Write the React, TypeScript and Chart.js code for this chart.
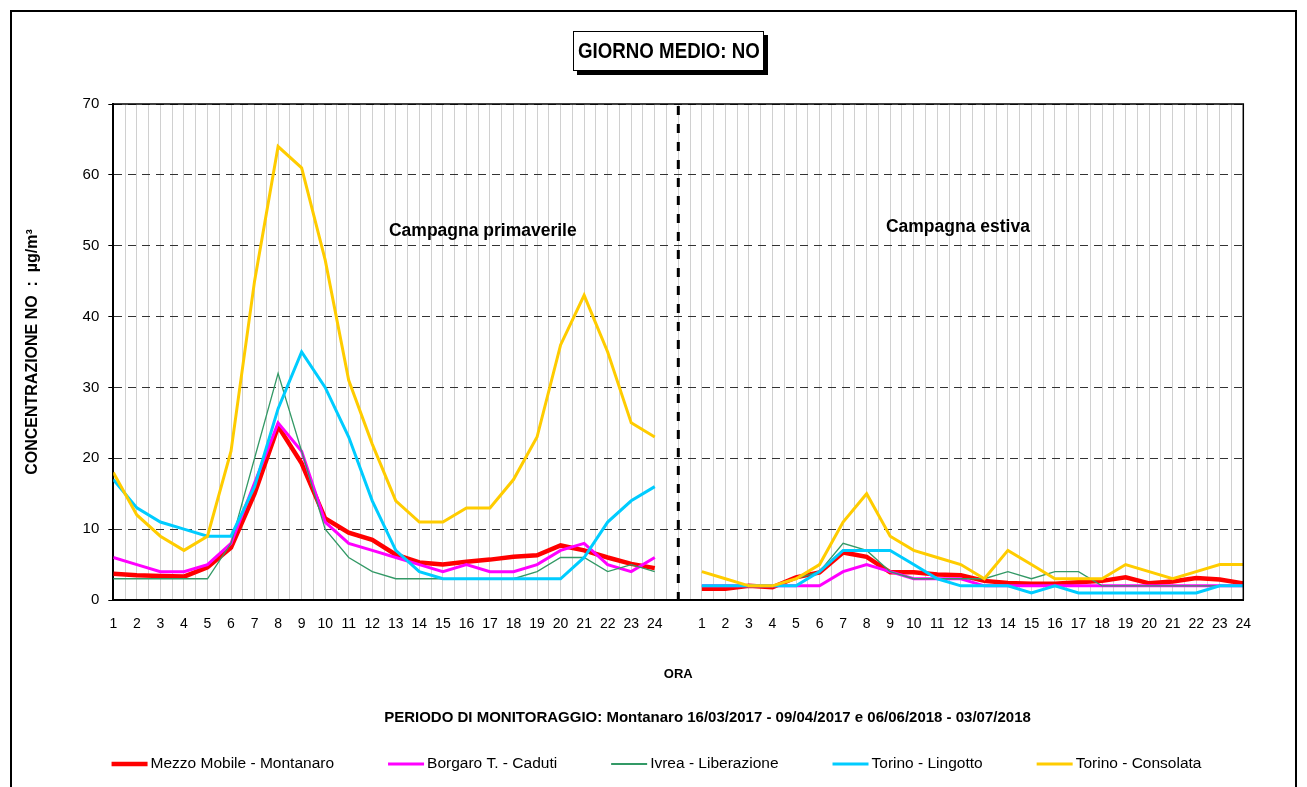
import React, { useEffect, useRef } from "react";
import { Chart, registerables } from "chart.js";

Chart.register(...registerables);

const FONT = "'Liberation Sans', Arial, sans-serif";

// Hours of each campaign (x tick labels)
const hoursSpring = ["1","2","3","4","5","6","7","8","9","10","11","12","13","14","15","16","17","18","19","20","21","22","23","24"];
const hoursSummer = ["1","2","3","4","5","6","7","8","9","10","11","12","13","14","15","16","17","18","19","20","21","22","23","24"];
const xLabels = [...hoursSpring, "", ...hoursSummer];

const yTicks = [0, 10, 20, 30, 40, 50, 60, 70];

// Series values (µg/m³)
const mezzoSpring = [3.7, 3.5, 3.4, 3.3, 4.6, 7.4, 15, 24.5, 19.3, 11.5, 9.5, 8.5, 6.4, 5.3, 5.0, 5.4, 5.7, 6.1, 6.3, 7.7, 7.0, 6.0, 5.1, 4.5];
const mezzoSummer = [1.6, 1.6, 2.0, 1.8, 3.2, 3.9, 6.7, 6.1, 3.9, 3.9, 3.6, 3.5, 2.7, 2.4, 2.3, 2.3, 2.5, 2.7, 3.2, 2.35, 2.6, 3.1, 2.9, 2.35];
const borgaroSpring = [6, 5, 4, 4, 5, 8, 16.5, 25, 21, 11, 8, 7, 6, 5, 4, 5, 4, 4, 5, 7, 8, 5, 4, 6];
const borgaroSummer = [2, 2, 2, 2, 2, 2, 4, 5, 4, 3, 3, 3, 2, 2, 2, 2, 2, 2, 2, 2, 2, 2, 2, 2];
const ivreaSpring = [3, 3, 3, 3, 3, 8, 20, 32, 21, 10, 6, 4, 3, 3, 3, 3, 3, 3, 4, 6, 6, 4, 5, 4];
const ivreaSummer = [2, 2, 2, 2, 3, 4, 8, 7, 4, 3, 3, 3, 3, 4, 3, 4, 4, 2, 2, 2, 2, 2, 2, 2];
const lingottoSpring = [17, 13, 11, 10, 9, 9, 16, 27, 35, 30, 23, 14, 7, 4, 3, 3, 3, 3, 3, 3, 6, 11, 14, 16];
const lingottoSummer = [2, 2, 2, 2, 2, 4, 7, 7, 7, 5, 3, 2, 2, 2, 1, 2, 1, 1, 1, 1, 1, 1, 2, 2];
const consolataSpring = [18, 12, 9, 7, 9, 21, 45, 64, 61, 48, 31, 22, 14, 11, 11, 13, 13, 17, 23, 36, 43, 35, 25, 23];
const consolataSummer = [4, 3, 2, 2, 3, 5, 11, 15, 9, 7, 6, 5, 3, 7, 5, 3, 3, 3, 5, 4, 3, 4, 5, 5];

const seriesNames = [
  "Mezzo Mobile - Montanaro",
  "Borgaro T. - Caduti",
  "Ivrea - Liberazione",
  "Torino - Lingotto",
  "Torino - Consolata",
];
const seriesColors = ["#FF0000", "#FF00FF", "#339966", "#00CCFF", "#FFCC00"];
const seriesWidths = [4.5, 3, 1.3, 3, 3];
const springData = [mezzoSpring, borgaroSpring, ivreaSpring, lingottoSpring, consolataSpring];
const summerData = [mezzoSummer, borgaroSummer, ivreaSummer, lingottoSummer, consolataSummer];

const GAP_POS = hoursSpring.length + 1; // empty slot between campaigns

function toPoints(spring: number[], summer: number[]) {
  return [
    ...spring.map((y, i) => ({ x: i + 1, y })),
    { x: GAP_POS, y: null },
    ...summer.map((y, i) => ({ x: GAP_POS + 1 + i, y })),
  ];
}

const decorPlugin = {
  id: "decor",
  beforeDatasetsDraw(chart: any) {
    const { ctx, chartArea, scales } = chart;
    const x = scales.x.getPixelForValue(GAP_POS);
    ctx.save();
    ctx.strokeStyle = "#000";
    ctx.lineWidth = 3;
    ctx.setLineDash([9, 9]);
    ctx.beginPath();
    ctx.moveTo(x, chartArea.top + 2);
    ctx.lineTo(x, chartArea.bottom + 6);
    ctx.stroke();
    ctx.restore();
  },
  afterDraw(chart: any) {
    const { ctx, chartArea, scales } = chart;
    ctx.save();
    // plot frame top & right
    ctx.strokeStyle = "#000";
    ctx.lineWidth = 1.5;
    ctx.beginPath();
    ctx.moveTo(chartArea.left, chartArea.top);
    ctx.lineTo(chartArea.right, chartArea.top);
    ctx.lineTo(chartArea.right, chartArea.bottom);
    ctx.stroke();

    // campaign labels
    ctx.fillStyle = "#000";
    ctx.font = `bold 17.5px ${FONT}`;
    ctx.textAlign = "left";
    ctx.textBaseline = "middle";
    ctx.fillText("Campagna primaverile", scales.x.getPixelForValue(12.71), scales.y.getPixelForValue(52.0));
    ctx.fillText("Campagna estiva", scales.x.getPixelForValue(33.82), scales.y.getPixelForValue(52.6));

    // monitoring period
    ctx.font = `bold 15px ${FONT}`;
    ctx.textAlign = "center";
    ctx.fillText(
      "PERIODO DI MONITORAGGIO: Montanaro 16/03/2017 - 09/04/2017 e 06/06/2018 - 03/07/2018",
      699.5,
      710
    );

    // legend
    const ds = chart.data.datasets;
    ctx.font = `15.5px ${FONT}`;
    const lineLen = 36;
    const textGap = 3;
    const itemGap = 54;
    const widths = ds.map((d: any) => lineLen + textGap + ctx.measureText(d.label).width);
    const total = widths.reduce((a: number, b: number) => a + b, 0) + itemGap * (ds.length - 1);
    let x = 648.5 - total / 2;
    const y = 756;
    ds.forEach((d: any, i: number) => {
      ctx.strokeStyle = d.borderColor;
      ctx.lineWidth = Math.max(d.borderWidth, 2);
      ctx.setLineDash([]);
      ctx.beginPath();
      ctx.moveTo(x, y);
      ctx.lineTo(x + lineLen, y);
      ctx.stroke();
      ctx.fillStyle = "#000";
      ctx.textAlign = "left";
      ctx.textBaseline = "middle";
      ctx.fillText(d.label, x + lineLen + textGap, y);
      x += widths[i] + itemGap;
    });
    ctx.restore();
  },
};

export default function App() {
  const canvasRef = useRef<HTMLCanvasElement | null>(null);

  useEffect(() => {
    const canvas = canvasRef.current;
    if (!canvas) return;
    const datasets = seriesNames.map((name, i) => ({
      label: name,
      data: toPoints(springData[i], summerData[i]),
      borderColor: seriesColors[i],
      backgroundColor: seriesColors[i],
      borderWidth: seriesWidths[i],
      pointRadius: 0,
      tension: 0,
      spanGaps: false,
      fill: false,
      order: seriesNames.length - 1 - i,
    }));

    const chart = new Chart(canvas, {
      type: "line",
      data: { datasets },
      options: {
        responsive: false,
        animation: false,
        devicePixelRatio: 1,
        layout: { padding: { top: 96, right: 55.7, bottom: 103, left: 0 } },
        plugins: {
          legend: { display: false },
          tooltip: { enabled: false },
        },
        scales: {
          x: {
            type: "linear",
            min: 1,
            max: xLabels.length,
            afterFit: (s: any) => {
              s.height = 84;
            },
            ticks: {
              stepSize: 0.5,
              maxTicksLimit: 500,
              autoSkip: false,
              maxRotation: 0,
              minRotation: 0,
              padding: 16,
              color: "#000",
              font: { family: FONT, size: 14 },
              callback: (v: any) => (Number.isInteger(v) ? xLabels[v - 1] : ""),
            },
            grid: { color: "#d0d0d0", lineWidth: 1, drawTicks: false },
            border: { display: true, color: "#000", width: 2 },
            title: {
              display: true,
              text: "ORA",
              color: "#000",
              font: { family: FONT, size: 13, weight: "bold" },
              padding: { top: 0, bottom: 2.2 },
            },
          },
          y: {
            min: yTicks[0],
            max: yTicks[yTicks.length - 1],
            afterFit: (s: any) => {
              s.width = 105.3;
            },
            afterBuildTicks: (s: any) => {
              s.ticks = yTicks.map((v) => ({ value: v }));
            },
            ticks: {
              padding: 9,
              color: "#000",
              font: { family: FONT, size: 15 },
            },
            grid: {
              color: "#333333",
              lineWidth: 1,
              drawTicks: true,
              tickLength: 5,
              tickColor: "#000",
              tickWidth: 1,
              tickBorderDash: [],
            },
            border: { display: true, color: "#000", width: 2, dash: [8, 6] },
            title: {
              display: true,
              text: "CONCENTRAZIONE NO  :  µg/m³",
              color: "#000",
              font: { family: FONT, size: 16, weight: "bold" },
              padding: { top: 15.4, bottom: 0 },
            },
          },
        },
      } as any,
      plugins: [decorPlugin],
    });
    return () => chart.destroy();
  }, []);

  return (
    <div
      style={{
        position: "relative",
        width: 1291,
        height: 779,
        overflow: "hidden",
        fontFamily: FONT,
        background: "#fff",
      }}
    >
      <canvas
        ref={canvasRef}
        width={1291}
        height={779}
        style={{ position: "absolute", left: 0, top: 0, width: 1291, height: 779 }}
      />
      <div
        style={{
          position: "absolute",
          left: 2,
          top: 2,
          width: 1287,
          height: 840,
          border: "2px solid #000",
          boxSizing: "border-box",
          pointerEvents: "none",
        }}
      />
      <div
        style={{
          position: "absolute",
          left: 565,
          top: 23,
          width: 191,
          height: 40,
          border: "1px solid #000",
          boxSizing: "border-box",
          background: "#fff",
          boxShadow: "4px 4px 0 #000",
          display: "flex",
          alignItems: "center",
          justifyContent: "center",
        }}
      >
        <span
          style={{
            fontWeight: "bold",
            fontSize: 22,
            whiteSpace: "nowrap",
            transform: "scaleX(0.85)",
            display: "inline-block",
            color: "#000",
          }}
        >
          GIORNO MEDIO: NO
        </span>
      </div>
    </div>
  );
}
